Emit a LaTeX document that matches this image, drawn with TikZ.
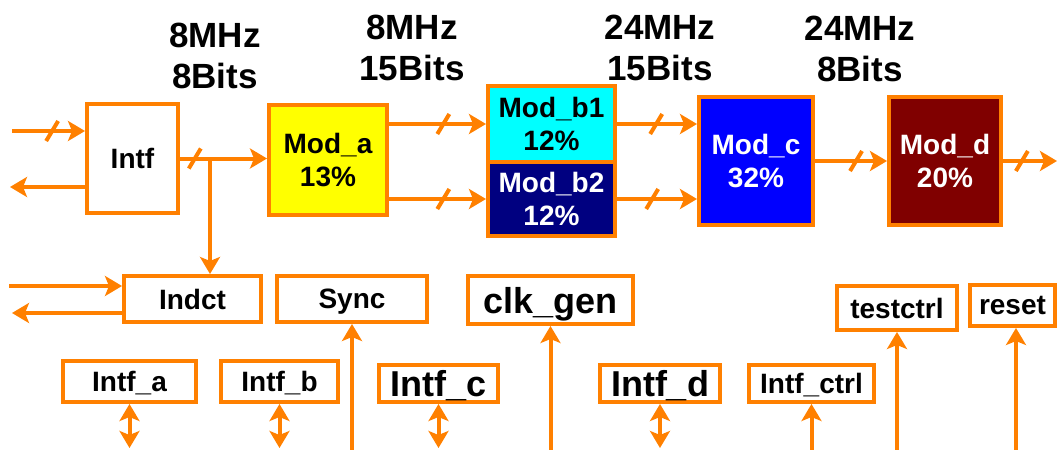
\documentclass[tikz,border=0pt]{standalone}
\usepackage{fontspec}
\setmainfont{Liberation Sans}
\usepackage{xcolor}
\usepackage{tikz}
\usetikzlibrary{arrows.meta,decorations.markings}
\definecolor{brand}{RGB}{255,128,0}
\definecolor{modyellow}{RGB}{255,255,0}
\definecolor{modcyan}{RGB}{0,255,255}
\definecolor{modnavy}{RGB}{0,0,128}
\definecolor{modblue}{RGB}{0,0,255}
\definecolor{modred}{RGB}{128,0,0}
\tikzset{blk/.style={draw=brand,line width=2pt,inner sep=0pt,align=center,text depth=0pt,
    font=\fontsize{14}{16.5}\selectfont\bfseries},
    big/.style={font=\fontsize{18}{20}\selectfont\bfseries},
    rate/.style={align=center,inner sep=0pt,
    font=\fontsize{17.5}{20.5}\selectfont\bfseries},
    wire/.style={draw=brand,line width=2pt,->},
    twoway/.style={draw=brand,line width=2pt,<->},
    bus/.style={postaction={decorate},decoration={markings,
    mark=at position #1 with {\draw[brand,line width=2pt,-] (-3pt,-5pt) -- (3pt,5pt);}}},
    >={Stealth[length=8.5pt,width=10pt,inset=2pt]}}
\begin{document}
\begin{tikzpicture}[x=0.5pt,y=-0.5pt]
            \useasboundingbox (0,0) rectangle (1057,450);
            \node[rate] (r1) at (215,56) {8MHz\\8Bits};
            \node[rate] (r2) at (412,48) {8MHz\\15Bits};
            \node[rate] (r3) at (660,47.5) {24MHz\\15Bits};
            \node[rate] (r4) at (860,49) {24MHz\\8Bits};

            \node[blk,minimum width=45.5pt,minimum height=54.5pt] (intf) at (132.5,158.5) {Intf};
            \node[blk,fill=modyellow,minimum width=59pt,minimum height=55pt] (moda) at (328,160) {Mod\_a\\13\%};
            \node[blk,fill=modcyan,minimum width=63.5pt,minimum height=38pt] (modb1) at (551.5,124) {Mod\_b1\\12\%};
            \node[blk,fill=modnavy,text=white,minimum width=63.5pt,minimum height=37pt] (modb2) at (551.5,199) {Mod\_b2\\12\%};
            \node[blk,fill=modblue,text=white,minimum width=57pt,minimum height=64pt] (modc) at (756,161) {Mod\_c\\32\%};
            \node[blk,fill=modred,text=white,minimum width=56pt,minimum height=64pt] (modd) at (945,161) {Mod\_d\\20\%};

            \node[blk,minimum width=68.5pt,minimum height=23pt] (indct) at (192.5,299) {Indct};
            \node[blk,minimum width=75pt,minimum height=23pt] (sync) at (352,299) {Sync};
            \node[blk,big,minimum width=82.5pt,minimum height=24pt] (clkgen) at (550.5,300) {clk\_gen};
            \node[blk,minimum width=60pt,minimum height=22pt] (testctrl) at (897,308) {testctrl};
            \node[blk,minimum width=42.5pt,minimum height=20.5pt] (reset) at (1012.5,305.5) {reset};

            \node[blk,minimum width=66.5pt,minimum height=20.5pt] (intfa) at (129.5,381.5) {Intf\_a};
            \node[blk,minimum width=58.5pt,minimum height=20.5pt] (intfb) at (279.5,381.5) {Intf\_b};
            \node[blk,big,minimum width=59.5pt,minimum height=18.5pt] (intfc) at (438.5,383.5) {Intf\_c};
            \node[blk,big,minimum width=60pt,minimum height=18.5pt] (intfd) at (660,383.5) {Intf\_d};
            \node[blk,minimum width=62.5pt,minimum height=18.5pt] (intfctrl) at (811.5,383.5) {Intf\_ctrl};

            \coordinate (intfin) at (12,131);
            \coordinate (intfout) at (10,187);
            \coordinate (indin) at (9,286);
            \coordinate (indout) at (12,313);
            \coordinate (tap) at (210,158.5);
            \coordinate (out) at (1057,161);
            \coordinate (bot) at (0,448);
            \coordinate (edge) at (0,450);
            \coordinate (rst) at (1016,450);

            \draw[wire,bus=0.55] (intfin) -- (intfin -| intf.west);
            \draw[wire] (intfout -| intf.west) -- (intfout);
            \draw[wire,bus=0.17] (intf.east) -- (intf.east -| moda.west);
            \draw[wire] (tap) -- (tap |- indct.north);
            \draw[wire,bus=0.56] (modb1.west -| moda.east) -- (modb1.west);
            \draw[wire,bus=0.56] (modb2.west -| moda.east) -- (modb2.west);
            \draw[wire,bus=0.49] (modb1.east) -- (modb1.east -| modc.west);
            \draw[wire,bus=0.44] (modb2.east) -- (modb2.east -| modc.west);
            \draw[wire,bus=0.57] (modc.east) -- (modd.west);
            \draw[wire,bus=0.35] (modd.east) -- (out);

            \draw[wire] (indin) -- (indin -| indct.west);
            \draw[wire] (indout -| indct.west) -- (indout);

            \draw[twoway] (intfa.south) -- (intfa.south |- bot);
            \draw[twoway] (intfb.south) -- (intfb.south |- bot);
            \draw[twoway] (intfc.south) -- (intfc.south |- bot);
            \draw[twoway] (intfd.south) -- (intfd.south |- bot);
            \draw[wire] (intfctrl.south |- edge) -- (intfctrl.south);
            \draw[wire] (sync.south |- edge) -- (sync.south);
            \draw[wire] (clkgen.south |- edge) -- (clkgen.south);
            \draw[wire] (testctrl.south |- edge) -- (testctrl.south);
            \draw[wire] (rst) -- (rst |- reset.south);
\end{tikzpicture}
\end{document}
